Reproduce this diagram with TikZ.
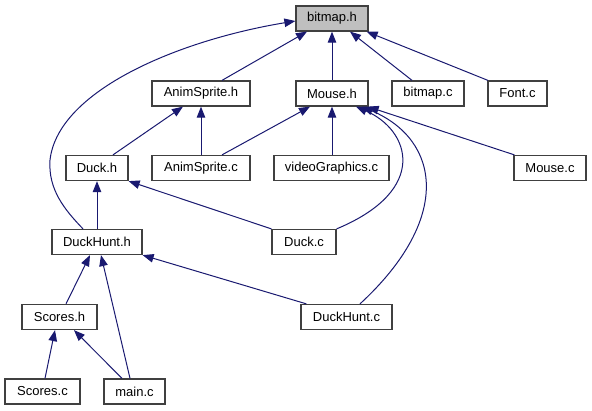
\documentclass[tikz,border=0pt]{standalone}
\usepackage{fontspec}
\setmainfont{Liberation Sans}
\usetikzlibrary{arrows.meta}
\definecolor{edgeblue}{HTML}{191970}
\definecolor{boxgray}{HTML}{404040}
\definecolor{fillgray}{HTML}{BFBFBF}
\tikzset{
  file/.style={draw=boxgray, line width=1.25pt, fill=white, minimum height=25pt, inner sep=0pt,
    font=\fontsize{13pt}{15pt}\selectfont, text=black},
  edge/.style={draw=edgeblue, line width=1pt, -{Triangle[length=11pt,width=8.5pt]}, color=edgeblue}
}
\begin{document}
\begin{tikzpicture}[x=1pt,y=-1pt]
\useasboundingbox (0,0) rectangle (592,411);
% row 1
\node[file, fill=fillgray, minimum width=72pt] (bitmaph) at (332,18.5) {bitmap.h};
% row 2
\node[file, minimum width=98pt] (animh) at (201,93.5) {AnimSprite.h};
\node[file, minimum width=72pt] (mouseh) at (332,93.5) {Mouse.h};
\node[file, minimum width=72pt] (bitmapc) at (428,93.5) {bitmap.c};
\node[file, minimum width=59pt] (fontc) at (517.5,93.5) {Font.c};
% row 3
\node[file, minimum width=62pt] (duckh) at (97,168) {Duck.h};
\node[file, minimum width=98pt] (animc) at (201,168) {AnimSprite.c};
\node[file, minimum width=115pt] (videoc) at (331.5,168) {videoGraphics.c};
\node[file, minimum width=72pt] (mousec) at (550,168) {Mouse.c};
% row 4
\node[file, minimum width=90pt] (duckhunth) at (97,242) {DuckHunt.h};
\node[file, minimum width=64pt] (duckc) at (304,242) {Duck.c};
% row 5
\node[file, minimum width=75pt] (scoresh) at (59.5,317) {Scores.h};
\node[file, minimum width=91pt] (duckhuntc) at (346.5,317) {DuckHunt.c};
% row 6
\node[file, minimum width=75pt] (scoresc) at (42.5,391.5) {Scores.c};
\node[file, minimum width=61pt] (mainc) at (134.5,391.5) {main.c};

% edges to bitmap.h
\draw[edge] ([xshift=21pt]animh.north) -- ([xshift=-25pt]bitmaph.south);
\draw[edge] (mouseh.north) -- (bitmaph.south);
\draw[edge] ([xshift=-16pt]bitmapc.north) -- ([xshift=18pt]bitmaph.south);
\draw[edge] ([xshift=0.5pt]fontc.north west) -- ([xshift=-2pt]bitmaph.south east);
\draw[edge] ([xshift=-14pt]duckhunth.north) .. controls (65,210) and (48,190) .. (50,160)
  .. controls (58,90) and (180,40) .. ([yshift=-2.5pt]bitmaph.west);
% edges to AnimSprite.h
\draw[edge] ([xshift=16pt]duckh.north) -- ([xshift=-18pt]animh.south);
\draw[edge] (animc.north) -- (animh.south);
% edges to Mouse.h
\draw[edge] ([xshift=21pt]animc.north) -- ([xshift=-22pt]mouseh.south);
\draw[edge] ([xshift=0.5pt]videoc.north) -- (mouseh.south);
\draw[edge] ([xshift=1pt]mousec.north west) -- ([xshift=-1pt]mouseh.south east);
\draw[edge] (duckc.north east) .. controls (430,190) and (410,130) .. ([xshift=24pt]mouseh.south);
\draw[edge] ([xshift=13.5pt]duckhuntc.north) .. controls (453,218) and (440,140) .. ([xshift=30pt]mouseh.south);
% edges to Duck.h
\draw[edge] (duckc.north west) -- (duckh.south east);
\draw[edge] (duckhunth.north) -- (duckh.south);
% edges to DuckHunt.h
\draw[edge] ([xshift=6.5pt]scoresh.north) -- ([xshift=-7pt]duckhunth.south);
\draw[edge] ([xshift=-4.5pt]mainc.north) -- ([xshift=4pt]duckhunth.south);
\draw[edge] ([xshift=6pt]duckhuntc.north west) -- (duckhunth.south east);
% edges to Scores.h
\draw[edge] ([xshift=2.5pt]scoresc.north) -- ([xshift=-4.5pt]scoresh.south);
\draw[edge] ([xshift=-12.5pt]mainc.north) -- ([xshift=14.5pt]scoresh.south);
\end{tikzpicture}
\end{document}
